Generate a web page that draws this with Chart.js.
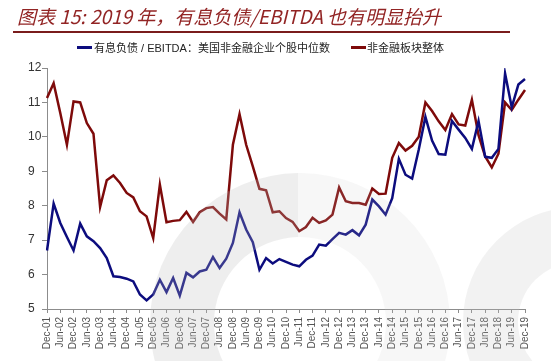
<!DOCTYPE html>
<html>
<head>
<meta charset="utf-8">
<script src="https://cdn.jsdelivr.net/npm/chart.js@4/dist/chart.umd.min.js"></script>
<style>
  html, body { margin:0; padding:0; background:#fff; }
  #wrap { position:relative; width:551px; height:361px; overflow:hidden; }
  #c { position:absolute; left:0; top:0; }
  #title { position:absolute; left:17px; top:3px; font-family:"Noto Sans CJK SC","Noto Sans",sans-serif; font-style:italic; font-size:19px; line-height:25px; color:#922424; white-space:nowrap; }
  #rule { position:absolute; left:13px; top:31px; width:497px; height:2px; background:#7a1c1c; }
  .leg { position:absolute; top:41px; font-family:"Liberation Sans","Noto Sans CJK SC",sans-serif; font-size:11px; line-height:14px; color:#222; white-space:nowrap; }
  .sw { position:absolute; top:46px; width:15px; height:3px; }
</style>
</head>
<body>
<div id="wrap">
  <canvas id="c" width="551" height="361"></canvas>
  <div id="title">图表 15: 2019 年，有息负债/EBITDA 也有明显抬升</div>
  <div id="rule"></div>
  <div class="sw" style="left:77px;background:#0c0c7e;"></div>
  <div class="leg" style="left:94px;">有息负债 / EBITDA：美国非金融企业个股中位数</div>
  <div class="sw" style="left:351px;background:#7e0a0a;"></div>
  <div class="leg" style="left:367px;">非金融板块整体</div>
</div>
<script>
const quarters = [
  "Dec-01","Mar-02","Jun-02","Sep-02","Dec-02","Mar-03","Jun-03","Sep-03","Dec-03",
  "Mar-04","Jun-04","Sep-04","Dec-04","Mar-05","Jun-05","Sep-05","Dec-05",
  "Mar-06","Jun-06","Sep-06","Dec-06","Mar-07","Jun-07","Sep-07","Dec-07",
  "Mar-08","Jun-08","Sep-08","Dec-08","Mar-09","Jun-09","Sep-09","Dec-09",
  "Mar-10","Jun-10","Sep-10","Dec-10","Mar-11","Jun-11","Sep-11","Dec-11",
  "Mar-12","Jun-12","Sep-12","Dec-12","Mar-13","Jun-13","Sep-13","Dec-13",
  "Mar-14","Jun-14","Sep-14","Dec-14","Mar-15","Jun-15","Sep-15","Dec-15",
  "Mar-16","Jun-16","Sep-16","Dec-16","Mar-17","Jun-17","Sep-17","Dec-17",
  "Mar-18","Jun-18","Sep-18","Dec-18","Mar-19","Jun-19","Sep-19","Dec-19"
];
const seriesNames = ["有息负债 / EBITDA：美国非金融企业个股中位数", "非金融板块整体"];
const medianValues = [
  6.70, 8.06, 7.50, 7.09, 6.70, 7.48, 7.11, 6.97, 6.77,
  6.48, 5.95, 5.93, 5.88, 5.80, 5.42, 5.25, 5.42,
  5.85, 5.49, 5.90, 5.39, 6.05, 5.92, 6.09, 6.14,
  6.51, 6.19, 6.46, 6.92, 7.81, 7.31, 6.94, 6.14,
  6.48, 6.32, 6.45, 6.37, 6.29, 6.24, 6.43, 6.55,
  6.87, 6.84, 7.03, 7.21, 7.16, 7.29, 7.14, 7.45,
  8.18, 7.98, 7.74, 8.22, 9.36, 8.90, 8.79, 9.63,
  10.58, 9.89, 9.50, 9.48, 10.46, 10.21, 9.97, 9.65,
  10.46, 9.42, 9.39, 9.65, 11.84, 10.86, 11.52, 11.68
];
const aggregateValues = [
  11.13, 11.56, 10.69, 9.77, 11.03, 11.00, 10.40, 10.09, 7.96,
  8.74, 8.88, 8.66, 8.37, 8.24, 7.84, 7.69, 7.06,
  8.61, 7.52, 7.56, 7.58, 7.82, 7.53, 7.81, 7.93,
  7.96, 7.77, 7.60, 9.77, 10.66, 9.77, 9.14, 8.49,
  8.45, 7.81, 7.84, 7.64, 7.53, 7.26, 7.38, 7.65,
  7.50, 7.57, 7.74, 8.53, 8.13, 8.08, 8.08, 8.03,
  8.50, 8.34, 8.35, 9.39, 9.82, 9.60, 9.74, 10.00,
  11.00, 10.75, 10.45, 10.20, 10.66, 10.36, 10.33, 11.08,
  10.05, 9.43, 9.11, 9.51, 11.00, 10.78, 11.08, 11.36
];
const yTicks = [5, 6, 7, 8, 9, 10, 11, 12];

const watermark = {
  id: 'watermark',
  afterDraw(chart) {
    const ctx = chart.ctx;
    ctx.save();
    ctx.beginPath();
    ctx.rect(0, 0, 298, 361);
    ctx.clip();
    ctx.beginPath();
    ctx.arc(300, 323, 150, 0, Math.PI * 2);
    ctx.arc(300, 323, 86, 0, Math.PI * 2, true);
    ctx.fillStyle = 'rgba(190,190,190,0.26)';
    ctx.fill('evenodd');
    ctx.restore();
    ctx.save();
    ctx.beginPath();
    ctx.rect(298, 0, 253, 361);
    ctx.clip();
    ctx.beginPath();
    ctx.arc(300, 323, 150, 0, Math.PI * 2);
    ctx.arc(300, 323, 86, 0, Math.PI * 2, true);
    ctx.fillStyle = 'rgba(200,200,200,0.15)';
    ctx.fill('evenodd');
    ctx.restore();
    ctx.save();
    ctx.beginPath();
    ctx.arc(578, 322, 115, 0, Math.PI * 2);
    ctx.arc(578, 322, 60, 0, Math.PI * 2, true);
    ctx.fillStyle = 'rgba(195,195,195,0.22)';
    ctx.fill('evenodd');
    ctx.restore();
  }
};

new Chart(document.getElementById('c'), {
  type: 'line',
  data: {
    labels: quarters,
    datasets: [
      { label: seriesNames[0], data: medianValues, borderColor: '#0c0c7e', borderWidth: 2.5, pointRadius: 0, tension: 0, fill: false },
      { label: seriesNames[1], data: aggregateValues, borderColor: '#7e0a0a', borderWidth: 2.5, pointRadius: 0, tension: 0, fill: false }
    ]
  },
  options: {
    responsive: false,
    devicePixelRatio: 1,
    animation: false,
    layout: { padding: { left: 28, top: 68, right: 26, bottom: 0 } },
    plugins: { legend: { display: false }, title: { display: false }, tooltip: { enabled: false } },
    scales: {
      x: {
        type: 'category',
        offset: false,
        grid: { drawOnChartArea: false, tickLength: 4, color: '#8c8c8c' },
        border: { color: '#8c8c8c', width: 1 },
        ticks: {
          autoSkip: false, maxRotation: 90, minRotation: 90, padding: 4,
          color: '#555', font: { family: '"Liberation Sans", Arial, sans-serif', size: 10 },
          callback: (v, i) => (i % 2 === 0 ? quarters[i] : null)
        },
        afterFit: (s) => { s.height = 52; }
      },
      y: {
        min: 5, max: 12,
        afterBuildTicks: (s) => { s.ticks = yTicks.map(v => ({ value: v })); },
        grid: { drawOnChartArea: false, tickLength: 5, color: '#8c8c8c' },
        border: { color: '#8c8c8c', width: 1 },
        ticks: {
          crossAlign: 'far', color: '#333',
          font: { family: '"Liberation Sans", Arial, sans-serif', size: 12 }
        },
        afterFit: (s) => { s.width = 19; }
      }
    }
  },
  plugins: [watermark]
});
</script>
</body>
</html>
